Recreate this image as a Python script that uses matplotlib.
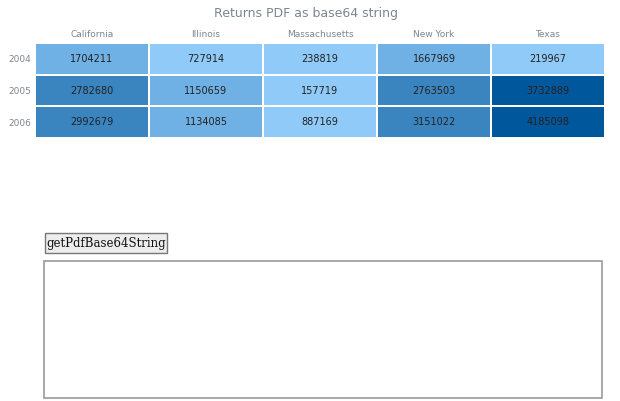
import numpy as np
import matplotlib.pyplot as plt
from matplotlib.colors import ListedColormap, BoundaryNorm
from matplotlib.patches import Rectangle

states = ['California', 'Illinois', 'Massachusetts', 'New York', 'Texas']
years = ['2004', '2005', '2006']
values = np.array([
    [1704211, 727914, 238819, 1667969, 219967],
    [2782680, 1150659, 157719, 2763503, 3732889],
    [2992679, 1134085, 887169, 3151022, 4185098],
])

W, H = 620, 401
fig = plt.figure(figsize=(W / 100, H / 100), dpi=100)

def box(x0, y0, x1, y1):
    return [x0 / W, 1 - y1 / H, (x1 - x0) / W, (y1 - y0) / H]

cmap = ListedColormap(['#90caf9', '#6fb1e4', '#3a84c0', '#01579b'])
norm = BoundaryNorm([0, 1000000, 2000000, 3500000, 5000000], cmap.N)

ax = fig.add_axes(box(35, 43, 605, 138))
ax.pcolormesh(values, cmap=cmap, norm=norm, edgecolors='white', linewidth=1.2)
ax.set_xlim(0, len(states))
ax.set_ylim(len(years), 0)
for i in range(len(years)):
    for j in range(len(states)):
        ax.text(j + 0.5, i + 0.5, str(values[i, j]), ha='center', va='center',
                fontsize=7, color='#222222')
ax.set_xticks(np.arange(len(states)) + 0.5)
ax.set_xticklabels(states)
ax.set_yticks(np.arange(len(years)) + 0.5)
ax.set_yticklabels(years)
ax.xaxis.tick_top()
ax.tick_params(length=0, labelsize=6.5, labelcolor='#7c868e', pad=3)
for s in ax.spines.values():
    s.set_visible(False)
fig.text(306 / W, 1 - 13 / H, 'Returns PDF as base64 string', ha='center', va='center',
         fontsize=9, color='#7c868e')

# button and text area
fig.patches.append(Rectangle((45 / W, 1 - 253 / H), 122 / W, 20 / H, transform=fig.transFigure,
                             facecolor='#ededed', edgecolor='#777777', linewidth=1))
fig.text(106 / W, 1 - 243 / H, 'getPdfBase64String', ha='center', va='center',
         fontsize=8.5, family='DejaVu Serif', color='#111111')
fig.patches.append(Rectangle((44 / W, 1 - 398 / H), 558 / W, 137 / H, transform=fig.transFigure,
                             facecolor='white', edgecolor='#999999', linewidth=1.2))

fig.savefig('out.png', dpi=100)
